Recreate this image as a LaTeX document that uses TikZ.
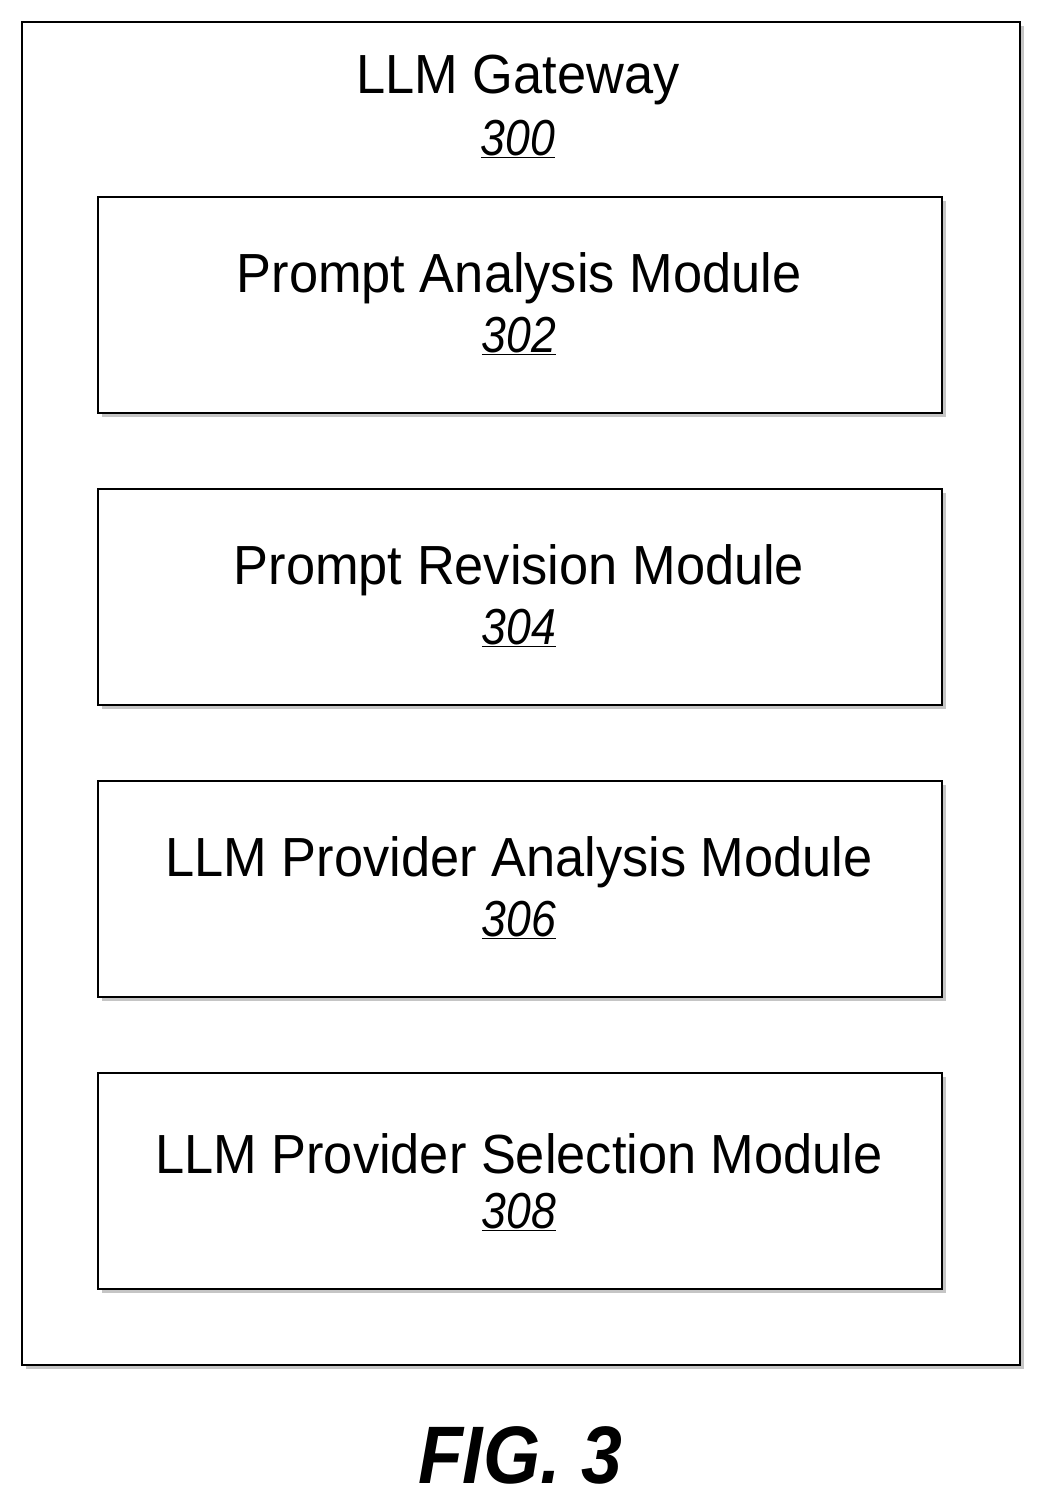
\documentclass[tikz,border=0pt]{standalone}
\usepackage{fontspec}
\setmainfont{Liberation Sans}
\tikzset{
  modbox/.style={draw, line width=1.6pt, fill=white, minimum width=844*0.025cm, minimum height=216*0.025cm,
    inner sep=0pt, drop shadow={shadow xshift=0.1cm, shadow yshift=-0.1cm, fill=gray!90}},
  modtext/.style={font=\fontsize{40}{44}\selectfont, scale=0.98, xscale=0.95},
  refnum/.style={font=\fontsize{36}{40}\selectfont\itshape, xscale=0.88}
}
\usetikzlibrary{shadows}
\newcommand{\refno}[1]{\underline{#1}}
\begin{document}
\begin{tikzpicture}[x=0.025cm, y=-0.025cm]
  \useasboundingbox (0,0) rectangle (1043,1507);
  % outer gateway box
  \node[modbox, minimum width=998*0.025cm, minimum height=1343*0.025cm] (gw) at (521,693.5) {};
  \node[modtext] (gwtitle) at (518,80) {LLM Gateway};
  \node[refnum] (gwnum) at (518,139) {\refno{300}};
  % modules
  \foreach \ytop/\name/\num/\label in {197/pam/302/Prompt Analysis Module, 489/prm/304/Prompt Revision Module,
      781/lpam/306/LLM Provider Analysis Module, 1073/lpsm/308/LLM Provider Selection Module} {
    \node[modbox] (\name) at (520,\ytop+108) {};
    \node[modtext] (\name-t) at (519,\ytop+81) {\label};
    \node[refnum] (\name-n) at (519,\ytop+139) {\refno{\num}};
  }
  % figure label
  \node[font=\fontsize{58}{60}\selectfont\bfseries\itshape, xscale=0.9] (fig) at (520,1455) {FIG. 3};
\end{tikzpicture}
\end{document}
